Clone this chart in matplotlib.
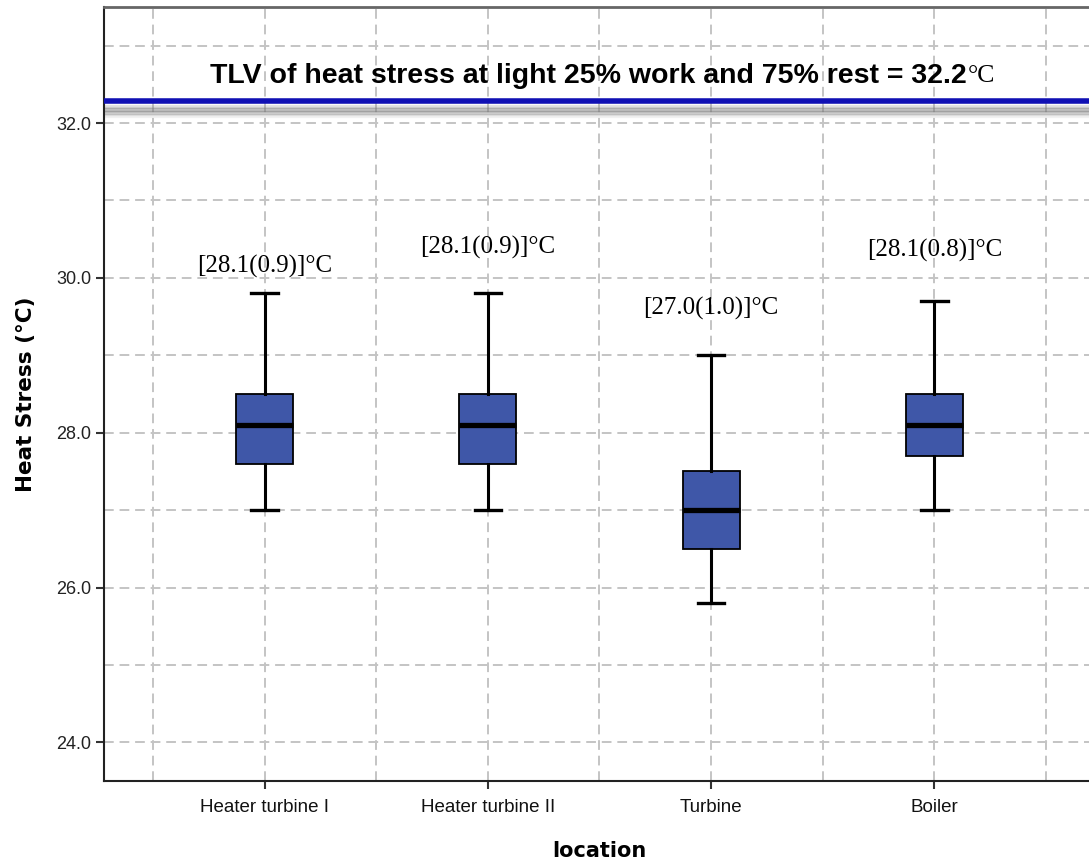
import numpy as np
import matplotlib.pyplot as plt

# %% data
locations = ['Heater turbine I', 'Heater turbine II', 'Turbine', 'Boiler']
whisker_low = [27.0, 27.0, 25.8, 27.0]
q1 = [27.6, 27.6, 26.5, 27.7]
median = [28.1, 28.1, 27.0, 28.1]
q3 = [28.5, 28.5, 27.5, 28.5]
whisker_high = [29.8, 29.8, 29.0, 29.7]
labels = ['[28.1(0.9)]°C', '[28.1(0.9)]°C', '[27.0(1.0)]°C', '[28.1(0.8)]°C']
label_y = [30.15, 30.39, 29.6, 30.35]
tlv = 32.29

# %% plot
fig = plt.figure(figsize=(10.89, 8.63), dpi=100)
ax = fig.add_axes([0.0955, 0.095, 0.910, 0.8969])

stats = []
for i in range(len(locations)):
    stats.append({'whislo': whisker_low[i], 'q1': q1[i], 'med': median[i],
                  'q3': q3[i], 'whishi': whisker_high[i], 'fliers': []})
pos = np.arange(len(locations))
ax.bxp(stats, positions=pos, widths=0.255, patch_artist=True, showfliers=False,
       boxprops=dict(facecolor='#3f57a8', edgecolor='black', linewidth=1.3),
       medianprops=dict(color='black', linewidth=3.8),
       whiskerprops=dict(color='black', linewidth=2.2),
       capprops=dict(color='black', linewidth=2.4), capwidths=0.12, zorder=3)

for i in range(len(locations)):
    ax.text(pos[i], label_y[i], labels[i], ha='center', va='center',
            family='Liberation Serif', fontsize=18, zorder=4)

# TLV line with a soft grey shadow under it
for k, a in enumerate([0.2, 0.32, 0.42, 0.45, 0.42, 0.32, 0.2, 0.1]):
    ax.axhline(tlv - 0.07 - 0.02 * k, color='#777777', alpha=a, linewidth=1.6, zorder=2)
ax.axhline(tlv, color='#1010b4', linewidth=4, zorder=3)
t = ax.text(1.45, 32.61, 'TLV of heat stress at light 25% work and 75% rest = 32.2',
            ha='center', va='center', family='Liberation Sans', fontweight='bold',
            fontsize=20.5, zorder=4)
ax.annotate('°C', xy=(1, 0.5), xycoords=t, xytext=(1, 0), textcoords='offset points',
            ha='left', va='center', family='Liberation Serif', fontsize=18.5)

# grid
for y in np.arange(24, 34, 1.0):
    ax.axhline(y, color='#c4c4c4', linestyle=(0, (5, 3)), linewidth=1.4, zorder=1)
for x in np.arange(-0.5, 4.0, 0.5):
    ax.axvline(x, color='#c4c4c4', linestyle=(0, (5, 3)), linewidth=1.4, zorder=1)

ax.set_xlim(-0.72, 3.72)
ax.set_ylim(23.5, 33.5)
ax.set_yticks([24, 26, 28, 30, 32])
ax.set_yticklabels(['24.0', '26.0', '28.0', '30.0', '32.0'], family='Liberation Sans', fontsize=13, color='#222222')
ax.set_xticks(pos)
ax.set_xticklabels(locations, family='Liberation Sans', fontsize=13.5, color='#111111')
ax.tick_params(axis='both', length=6, width=1.5, color='#333333', pad=3)
ax.tick_params(axis='x', pad=7)

for s in ['left', 'bottom']:
    ax.spines[s].set_color('#222222')
    ax.spines[s].set_linewidth(1.5)
ax.spines['top'].set_color('#666666')
ax.spines['top'].set_linewidth(2)
ax.spines['right'].set_visible(False)

ax.set_ylabel('Heat Stress (°C)', family='DejaVu Sans', fontweight='bold', fontsize=15.5, labelpad=15)
ax.set_xlabel('location', family='DejaVu Sans', fontweight='bold', fontsize=15, labelpad=18)

fig.savefig('out.png', dpi=100)
